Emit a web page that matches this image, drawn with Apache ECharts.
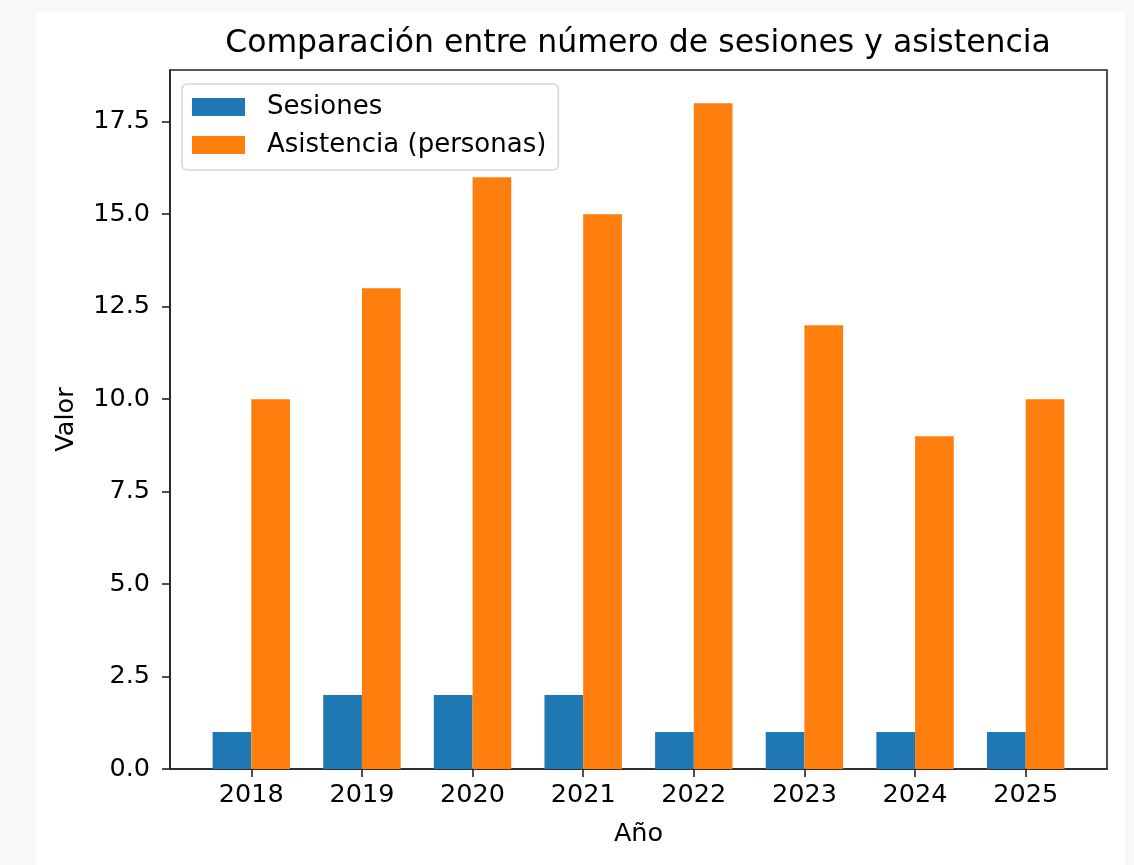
<!DOCTYPE html>
<html>
<head>
<meta charset="utf-8">
<script src="https://cdn.jsdelivr.net/npm/echarts@6/dist/echarts.min.js"></script>
<style>html,body{margin:0;padding:0;background:#f8f8f8;}#c{width:1134px;height:865px;}</style>
</head>
<body>
<div id="c"></div>
<script>
const years = ['2018','2019','2020','2021','2022','2023','2024','2025'];
const sesiones = [1, 2, 2, 2, 1, 1, 1, 1];
const asistencia = [10, 13, 16, 15, 18, 12, 9, 10];
const yTicks = [0, 2.5, 5, 7.5, 10, 12.5, 15, 17.5];

const FONT = 'DejaVu Sans';
const FS = 25.5;
const xIdx = years.map((_, i) => i);
const off = 0.175;
const chart = echarts.init(document.getElementById('c'), null, {renderer: 'canvas'});
chart.setOption({
  backgroundColor: '#f8f8f8',
  animation: false,
  textStyle: {fontFamily: FONT},
  graphic: [{type: 'rect', z: -10, silent: true, shape: {x: 36, y: 12, width: 1089, height: 860}, style: {fill: '#ffffff'}}],
  title: {
    text: 'Comparación entre número de sesiones y asistencia',
    left: 638, textAlign: 'center', top: 28, padding: 0,
    textStyle: {fontFamily: FONT, fontSize: 31.5, fontWeight: 'normal', color: '#000'}
  },
  legend: {
    orient: 'vertical', left: 182, top: 84,
    padding: [10, 12, 12, 10],
    itemWidth: 53, itemHeight: 18, itemGap: 12,
    backgroundColor: '#fff', borderColor: '#d6d6d6', borderWidth: 1.5, borderRadius: 5,
    icon: 'rect',
    textStyle: {fontFamily: FONT, fontSize: 26, color: '#000', padding: [0, 0, 0, 17], lineHeight: 22},
    data: ['Sesiones', 'Asistencia (personas)']
  },
  grid: {left: 170, right: 27, top: 70, bottom: 96, show: true, borderColor: '#222', borderWidth: 1.6, backgroundColor: 'transparent'},
  xAxis: {
    type: 'value', min: -0.735, max: 7.735,
    name: 'Año', nameLocation: 'middle', nameGap: 52,
    nameTextStyle: {fontFamily: FONT, fontSize: FS, color: '#000'},
    axisLine: {show: true, onZero: false, lineStyle: {color: '#222', width: 1.6}},
    axisTick: {show: true, length: 8, lineStyle: {color: '#222', width: 1.6}, customValues: xIdx},
    axisLabel: {fontFamily: FONT, fontSize: FS, color: '#000', margin: 13, customValues: xIdx, formatter: v => years[Math.round(v)]},
    splitLine: {show: false}
  },
  yAxis: {
    type: 'value', min: 0, max: 18.9,
    name: 'Valor', nameLocation: 'middle', nameGap: 91, nameRotate: 90,
    nameTextStyle: {fontFamily: FONT, fontSize: FS, color: '#000'},
    axisLine: {show: true, onZero: false, lineStyle: {color: '#222', width: 1.6}},
    axisTick: {show: true, length: 8, lineStyle: {color: '#222', width: 1.6}, customValues: yTicks},
    axisLabel: {fontFamily: FONT, fontSize: FS, color: '#000', margin: 20, customValues: yTicks, formatter: v => v.toFixed(1)},
    splitLine: {show: false}
  },
  series: [
    {name: 'Sesiones', type: 'bar', barWidth: 38.7, barGap: '-100%', itemStyle: {color: '#1f77b4'},
     data: sesiones.map((v, i) => [i - off, v])},
    {name: 'Asistencia (personas)', type: 'bar', barWidth: 38.7, barGap: '-100%', itemStyle: {color: '#ff7f0e'},
     data: asistencia.map((v, i) => [i + off, v])}
  ]
});
</script>
</body>
</html>
